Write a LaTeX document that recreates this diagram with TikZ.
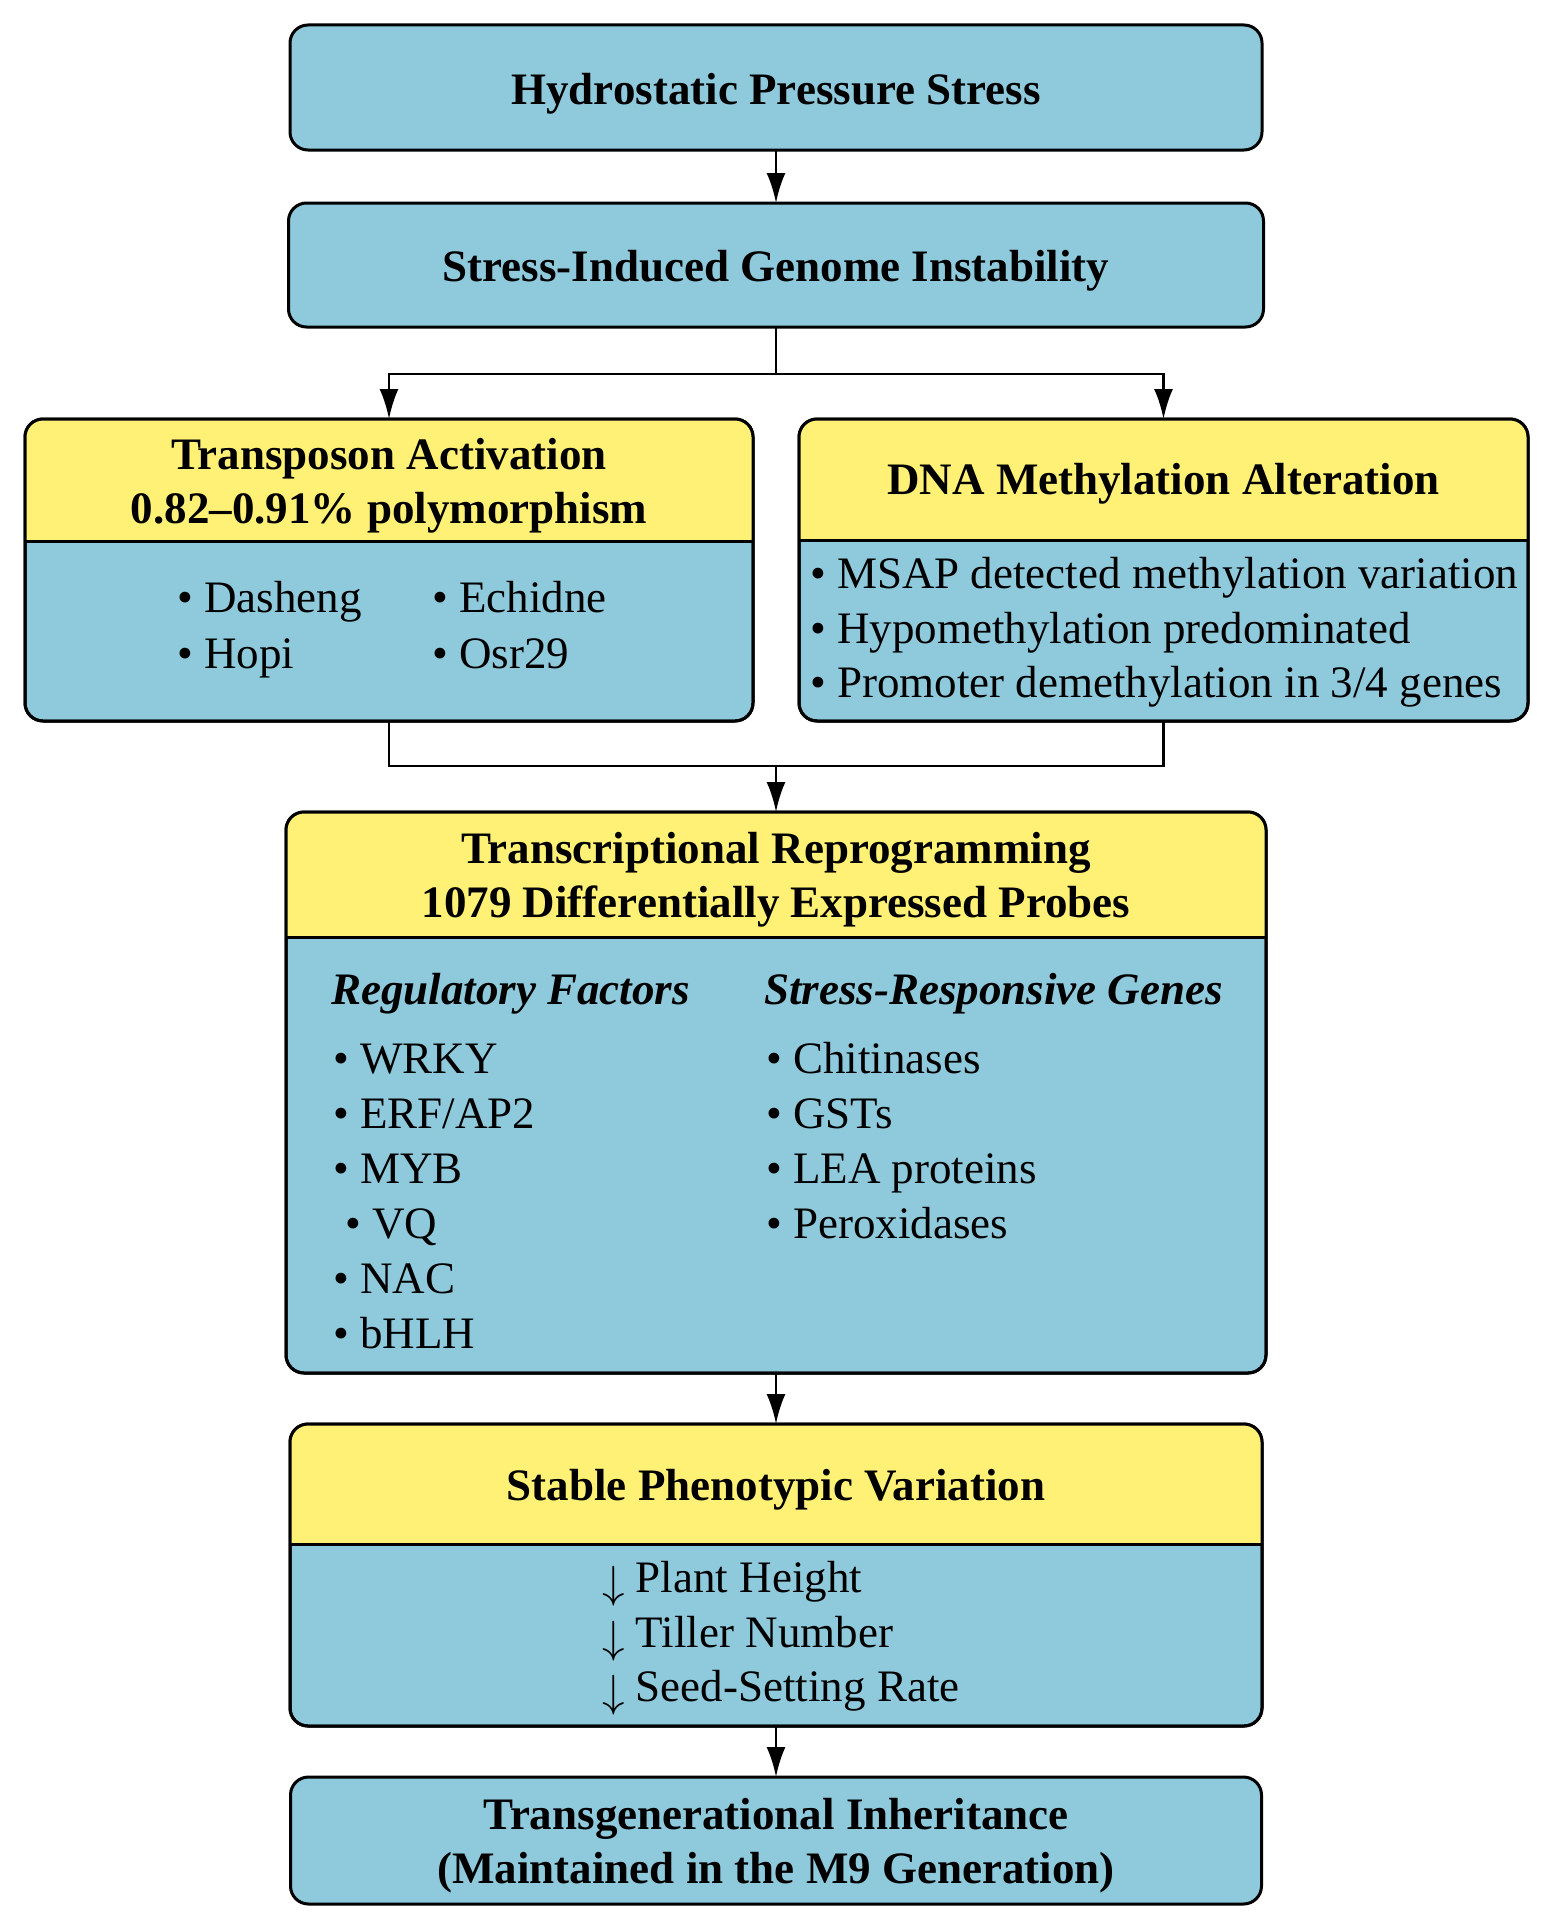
\documentclass[tikz,border=0pt]{standalone}
\usepackage{fix-cm}
\usepackage{fontspec}
\setmainfont{Liberation Serif}
\usetikzlibrary{arrows.meta}
\definecolor{boxblue}{HTML}{8FC9DC}
\definecolor{boxyellow}{HTML}{FFF176}
\tikzset{
  box/.style={draw=black, line width=3pt, rounded corners=18pt, fill=boxblue, inner sep=0pt, outer sep=0pt},
  outline/.style={draw=black, line width=3pt, rounded corners=18pt},
  divider/.style={draw=black, line width=3pt},
  hd/.style={font=\fontsize{45}{54}\selectfont\bfseries, anchor=base, inner sep=0pt},
  sub/.style={font=\fontsize{45}{54}\selectfont\bfseries\itshape, anchor=base west, inner sep=0pt},
  tx/.style={font=\fontsize{45}{55}\selectfont, anchor=base west, inner sep=0pt},
  conn/.style={draw=black, line width=2.8pt, -{Latex[length=30pt,width=19pt]}},
  link/.style={draw=black, line width=2.8pt}
}
\newcommand{\header}[2]{%
  \begin{scope}
    \clip[rounded corners=18pt] (#1.north west) rectangle (#1.south east);
    \fill[boxyellow] (#1.north west) rectangle (#1.east |- #2);
  \end{scope}
  \draw[divider] (#1.west |- #2) -- (#1.east |- #2);
  \draw[outline] (#1.north west) rectangle (#1.south east);
}
\newcommand{\dnarrow}{\raisebox{-5pt}{$\downarrow$}}
\begin{document}
\begin{tikzpicture}[x=1pt,y=-1pt]
\useasboundingbox (0,0) rectangle (1551,1927);

% boxes
\node[box, minimum width=972pt, minimum height=125pt] (b1) at (776,87.5) {};
\node[box, minimum width=975pt, minimum height=124pt] (b2) at (776,265) {};
\node[box, minimum width=728pt, minimum height=302pt] (b3) at (389,570) {};
\node[box, minimum width=729pt, minimum height=302pt] (b4) at (1163.5,570) {};
\node[box, minimum width=980pt, minimum height=561pt] (b5) at (776,1092.5) {};
\node[box, minimum width=972pt, minimum height=302pt] (b6) at (776,1575) {};
\node[box, minimum width=971pt, minimum height=127pt] (b7) at (776,1840.5) {};

% header dividers
\coordinate (d3) at (0,541);
\coordinate (d4) at (0,540);
\coordinate (d5) at (0,937);
\coordinate (d6) at (0,1544);
\header{b3}{d3}
\header{b4}{d4}
\header{b5}{d5}
\header{b6}{d6}

% texts
\node[hd] (t1) at (776,104) {Hydrostatic Pressure Stress};
\node[hd] (t2) at (776,281) {Stress-Induced Genome Instability};

\node[hd] (t3a) at (389,469) {Transposon Activation};
\node[hd] (t3b) at (389,523) {0.82–0.91\% polymorphism};
\node[tx] (t3c) at (177,612) {• Dasheng};
\node[tx] (t3d) at (432,612) {• Echidne};
\node[tx] (t3e) at (177,668) {• Hopi};
\node[tx] (t3f) at (432,668) {• Osr29};

\node[hd] (t4a) at (1163.5,494) {DNA Methylation Alteration};
\node[tx] (t4b) at (810,588) {• MSAP detected methylation variation};
\node[tx] (t4c) at (810,643) {• Hypomethylation predominated};
\node[tx] (t4d) at (810,697) {• Promoter demethylation in 3/4 genes};

\node[hd] (t5a) at (776,863) {Transcriptional Reprogramming};
\node[hd] (t5b) at (776,917) {1079 Differentially Expressed Probes};
\node[sub] (t5c) at (331,1004) {Regulatory Factors};
\node[sub] (t5d) at (764,1004) {Stress-Responsive Genes};
\node[tx] (l1) at (333,1073) {• WRKY};
\node[tx] (l2) at (333,1128) {• ERF/AP2};
\node[tx] (l3) at (333,1183) {• MYB};
\node[tx] (l4) at (345,1238) {• VQ};
\node[tx] (l5) at (333,1293) {• NAC};
\node[tx] (l6) at (333,1348) {• bHLH};
\node[tx] (r1) at (766,1073) {• Chitinases};
\node[tx] (r2) at (766,1128) {• GSTs};
\node[tx] (r3) at (766,1183) {• LEA proteins};
\node[tx] (r4) at (766,1238) {• Peroxidases};

\node[hd] (t6a) at (776,1500) {Stable Phenotypic Variation};
\node[tx] (t6b) at (602,1592) {\dnarrow{} Plant Height};
\node[tx] (t6c) at (602,1647) {\dnarrow{} Tiller Number};
\node[tx] (t6d) at (602,1701) {\dnarrow{} Seed-Setting Rate};

\node[hd] (t7a) at (776,1829) {Transgenerational Inheritance};
\node[hd] (t7b) at (776,1883) {(Maintained in the M9 Generation)};

% connectors
\coordinate (split) at (776,374);
\coordinate (merge) at (776,766);
\draw[conn] (b1.south) -- (b2.north);
\draw[link] (b2.south) -- (split);
\draw[conn] (split) -| (b3.north);
\draw[conn] (split) -| (b4.north);
\draw[link] (b3.south) |- (merge);
\draw[link] (b4.south) |- (merge);
\draw[conn] (merge) -- (b5.north);
\draw[conn] (b5.south) -- (b6.north);
\draw[conn] (b6.south) -- (b7.north);
\end{tikzpicture}
\end{document}
